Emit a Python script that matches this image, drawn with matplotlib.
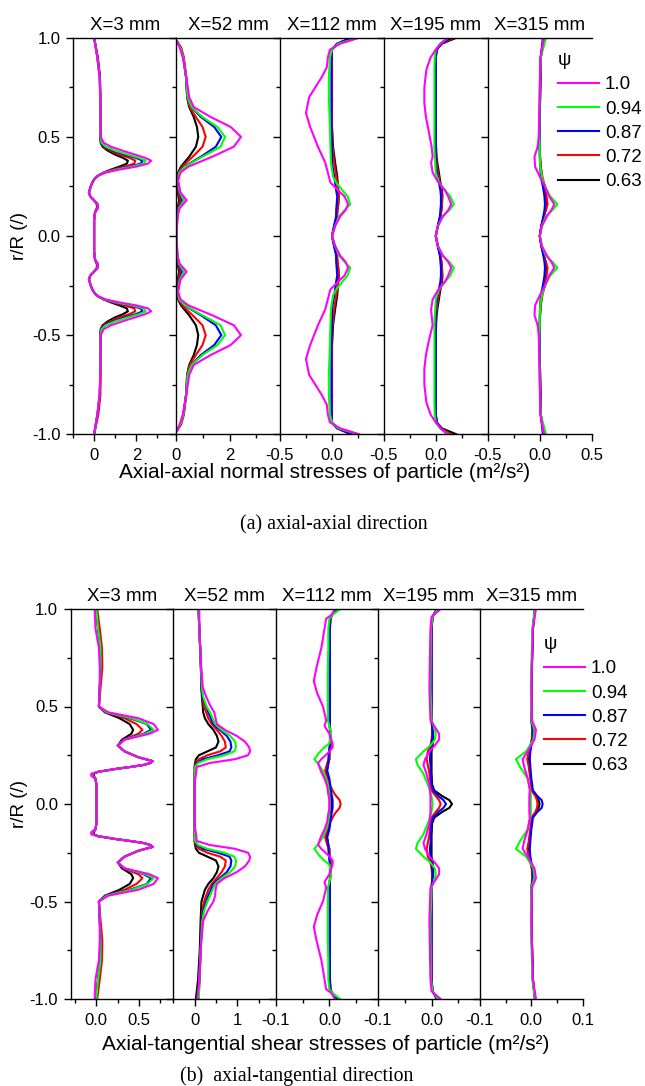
import matplotlib
matplotlib.use('Agg')
import matplotlib.pyplot as plt

plt.rcParams['font.family'] = ['Liberation Sans', 'DejaVu Sans']
plt.rcParams['axes.unicode_minus'] = False

PSI = ['1.0', '0.94', '0.87', '0.72', '0.63']
COLORS = ['#ff00ff', '#00ff00', '#0000ff', '#ff0000', '#000000']
STATIONS = ['X=3 mm', 'X=52 mm', 'X=112 mm', 'X=195 mm', 'X=315 mm']

# ---------------- (a) axial-axial normal stresses ----------------
# X = 3 mm
A1_POS = [1.0, 0.9, 0.8, 0.7, 0.6, 0.5, 0.47, 0.45, 0.43, 0.41, 0.395, 0.38, 0.365, 0.35, 0.335, 0.32, 0.305, 0.29,
          0.27, 0.25, 0.22, 0.2, 0.18, 0.16, 0.14, 0.12, 0.08, 0.0, -0.08, -0.12, -0.14, -0.16, -0.18, -0.2, -0.22,
          -0.25, -0.27, -0.29, -0.305, -0.32, -0.335, -0.35, -0.365, -0.38, -0.395, -0.41, -0.43, -0.45, -0.47, -0.5,
          -0.6, -0.7, -0.8, -0.9, -1.0]
A1_MAG = [0.0, 0.15, 0.26, 0.29, 0.3, 0.31, 0.45, 0.8, 1.35, 1.95, 2.4, 2.7, 2.55, 2.0, 1.2, 0.55, 0.2, 0.03, -0.08,
          -0.16, -0.25, -0.19, 0.0, 0.18, 0.18, 0.05, 0.0, 0.0, 0.0, 0.05, 0.18, 0.18, 0.0, -0.19, -0.25, -0.16, -0.08,
          0.03, 0.2, 0.55, 1.2, 2.0, 2.55, 2.7, 2.4, 1.95, 1.35, 0.8, 0.45, 0.31, 0.3, 0.29, 0.26, 0.15, 0.0]
A1_GRN = [0.0, 0.15, 0.26, 0.29, 0.3, 0.3, 0.35, 0.55, 1.0, 1.6, 2.1, 2.45, 2.35, 1.8, 1.05, 0.5, 0.2, 0.03, -0.08,
          -0.16, -0.25, -0.19, 0.0, 0.17, 0.17, 0.05, 0.0, 0.0, 0.0, 0.05, 0.17, 0.17, 0.0, -0.19, -0.25, -0.16, -0.08,
          0.03, 0.2, 0.5, 1.05, 1.8, 2.35, 2.45, 2.1, 1.6, 1.0, 0.55, 0.35, 0.3, 0.3, 0.29, 0.26, 0.15, 0.0]
A1_BLU = [0.0, 0.16, 0.27, 0.29, 0.3, 0.3, 0.33, 0.5, 0.9, 1.45, 1.95, 2.3, 2.2, 1.7, 1.0, 0.5, 0.2, 0.03, -0.08,
          -0.16, -0.25, -0.19, 0.0, 0.16, 0.16, 0.05, 0.0, 0.0, 0.0, 0.05, 0.16, 0.16, 0.0, -0.19, -0.25, -0.16, -0.08,
          0.03, 0.2, 0.5, 1.0, 1.7, 2.2, 2.3, 1.95, 1.45, 0.9, 0.5, 0.33, 0.3, 0.3, 0.29, 0.27, 0.16, 0.0]
A1_RED = [0.0, 0.18, 0.28, 0.3, 0.3, 0.3, 0.32, 0.45, 0.78, 1.2, 1.65, 1.95, 1.9, 1.45, 0.9, 0.45, 0.2, 0.03, -0.08,
          -0.16, -0.24, -0.18, 0.0, 0.14, 0.14, 0.04, 0.0, 0.0, 0.0, 0.04, 0.14, 0.14, 0.0, -0.18, -0.24, -0.16, -0.08,
          0.03, 0.2, 0.45, 0.9, 1.45, 1.9, 1.95, 1.65, 1.2, 0.78, 0.45, 0.32, 0.3, 0.3, 0.3, 0.3, 0.2, 0.0]
A1_BLK = [0.0, 0.16, 0.27, 0.29, 0.3, 0.3, 0.31, 0.4, 0.65, 1.0, 1.35, 1.6, 1.55, 1.2, 0.8, 0.45, 0.2, 0.03, -0.08,
          -0.16, -0.24, -0.18, 0.0, 0.13, 0.13, 0.04, 0.0, 0.0, 0.0, 0.04, 0.13, 0.13, 0.0, -0.18, -0.24, -0.16, -0.08,
          0.03, 0.2, 0.45, 0.8, 1.2, 1.55, 1.6, 1.35, 1.0, 0.65, 0.4, 0.31, 0.3, 0.3, 0.29, 0.27, 0.16, 0.0]

# X = 52 mm
A2_POS = [0.98, 0.95, 0.9, 0.8, 0.7, 0.65, 0.6, 0.55, 0.5, 0.45, 0.4, 0.35, 0.32, 0.28, 0.22, 0.18, 0.14, 0.1, 0.0,
          -0.1, -0.14, -0.18, -0.22, -0.28, -0.32, -0.35, -0.4, -0.45, -0.5, -0.55, -0.6, -0.65, -0.7, -0.8, -0.9,
          -0.95, -0.98]
A2_MAG = [0.03, 0.12, 0.24, 0.37, 0.48, 0.65, 1.29, 2.04, 2.43, 2.16, 1.35, 0.45, 0.15, 0.06, 0.15, 0.38, 0.12, 0.04,
          0.0, 0.04, 0.12, 0.38, 0.15, 0.06, 0.15, 0.45, 1.35, 2.16, 2.43, 2.04, 1.29, 0.65, 0.48, 0.37, 0.24, 0.12, 0.03]
A2_GRN = [0.02, 0.15, 0.26, 0.36, 0.42, 0.57, 0.98, 1.54, 1.83, 1.66, 0.98, 0.32, 0.1, 0.05, 0.12, 0.28, 0.09, 0.03,
          0.0, 0.03, 0.09, 0.28, 0.12, 0.05, 0.1, 0.32, 0.98, 1.66, 1.83, 1.54, 0.98, 0.57, 0.42, 0.36, 0.26, 0.15, 0.02]
A2_BLU = [0.02, 0.15, 0.26, 0.36, 0.42, 0.56, 0.92, 1.42, 1.69, 1.48, 0.92, 0.3, 0.1, 0.05, 0.1, 0.22, 0.07, 0.03,
          0.0, 0.03, 0.07, 0.22, 0.1, 0.05, 0.1, 0.3, 0.92, 1.48, 1.69, 1.42, 0.92, 0.56, 0.42, 0.36, 0.26, 0.15, 0.02]
A2_RED = [0.03, 0.18, 0.28, 0.37, 0.4, 0.5, 0.73, 0.98, 1.1, 0.98, 0.61, 0.22, 0.08, 0.04, 0.07, 0.15, 0.05, 0.02,
          0.0, 0.02, 0.05, 0.15, 0.07, 0.04, 0.08, 0.22, 0.61, 0.98, 1.1, 0.98, 0.73, 0.5, 0.4, 0.37, 0.28, 0.18, 0.03]
A2_BLK = [0.02, 0.15, 0.26, 0.36, 0.4, 0.48, 0.65, 0.77, 0.82, 0.73, 0.48, 0.17, 0.06, 0.03, 0.05, 0.1, 0.04, 0.02,
          0.0, 0.02, 0.04, 0.1, 0.05, 0.03, 0.06, 0.17, 0.48, 0.73, 0.82, 0.77, 0.65, 0.48, 0.4, 0.36, 0.26, 0.15, 0.02]

# X = 112 mm
A3_POS = [1.0, 0.97, 0.94, 0.9, 0.85, 0.8, 0.75, 0.7, 0.62, 0.55, 0.45, 0.37, 0.3, 0.27, 0.23, 0.2, 0.16, 0.13, 0.1,
          0.05, 0.0, -0.05, -0.1, -0.13, -0.16, -0.2, -0.23, -0.27, -0.3, -0.37, -0.45, -0.55, -0.62, -0.7, -0.75,
          -0.8, -0.85, -0.9, -0.94, -0.97, -1.0]
A3_MAG = [0.26, 0.08, -0.02, -0.04, -0.05, -0.1, -0.16, -0.22, -0.25, -0.21, -0.135, -0.065, -0.03, -0.016, 0.06,
          0.12, 0.155, 0.13, 0.08, 0.03, 0.0, 0.03, 0.08, 0.13, 0.155, 0.12, 0.06, -0.016, -0.03, -0.065, -0.135,
          -0.21, -0.25, -0.22, -0.16, -0.1, -0.05, -0.04, -0.02, 0.08, 0.26]
A3_GRN = [0.26, 0.06, 0.0, -0.02, -0.025, -0.03, -0.03, -0.03, -0.025, -0.02, -0.015, -0.01, 0.01, 0.04, 0.1, 0.15,
          0.175, 0.12, 0.07, 0.03, 0.0, 0.03, 0.07, 0.12, 0.175, 0.15, 0.1, 0.04, 0.01, -0.01, -0.015, -0.02, -0.025,
          -0.03, -0.03, -0.03, -0.025, -0.02, 0.0, 0.06, 0.26]
A3_BLU = [0.2, 0.05, 0.0, -0.005, -0.005, -0.005, -0.005, -0.005, -0.005, -0.005, 0.0, 0.0, 0.02, 0.03, 0.04, 0.05,
          0.045, 0.04, 0.04, 0.02, 0.0, 0.02, 0.04, 0.04, 0.045, 0.05, 0.04, 0.03, 0.02, 0.0, 0.0, -0.005, -0.005,
          -0.005, -0.005, -0.005, -0.005, -0.005, 0.0, 0.05, 0.2]
A3_RED = [0.2, 0.05, 0.0, -0.002, 0.0, 0.0, 0.0, 0.0, 0.0, 0.0, 0.005, 0.02, 0.04, 0.05, 0.06, 0.065, 0.06, 0.055,
          0.05, 0.025, 0.0, 0.025, 0.05, 0.055, 0.06, 0.065, 0.06, 0.05, 0.04, 0.02, 0.005, 0.0, 0.0, 0.0, 0.0, 0.0,
          0.0, -0.002, 0.0, 0.05, 0.2]
A3_BLK = [0.18, 0.05, 0.0, 0.0, 0.0, 0.0, 0.0, 0.0, 0.0, 0.0, 0.01, 0.03, 0.05, 0.055, 0.06, 0.065, 0.06, 0.05, 0.045,
          0.02, 0.0, 0.02, 0.045, 0.05, 0.06, 0.065, 0.06, 0.055, 0.05, 0.03, 0.01, 0.0, 0.0, 0.0, 0.0, 0.0, 0.0, 0.0,
          0.0, 0.05, 0.18]

# X = 195 mm
A4_POS = [1.0, 0.97, 0.94, 0.9, 0.84, 0.75, 0.67, 0.6, 0.535, 0.45, 0.4, 0.37, 0.32, 0.27, 0.23, 0.2, 0.16, 0.13, 0.1,
          0.05, 0.0, -0.05, -0.1, -0.13, -0.16, -0.2, -0.23, -0.27, -0.32, -0.37, -0.4, -0.45, -0.535, -0.6, -0.67,
          -0.75, -0.84, -0.9, -0.94, -0.97, -1.0]
A4_MAG = [0.11, 0.05, 0.0, -0.05, -0.09, -0.11, -0.11, -0.095, -0.07, -0.04, -0.03, -0.045, -0.03, 0.025, 0.09, 0.12,
          0.15, 0.12, 0.07, 0.02, 0.0, 0.02, 0.07, 0.12, 0.15, 0.12, 0.09, 0.025, -0.03, -0.045, -0.04, -0.03, -0.07,
          -0.095, -0.11, -0.11, -0.09, -0.05, 0.0, 0.05, 0.11]
A4_GRN = [0.12, 0.04, 0.0, -0.01, -0.013, -0.013, -0.013, -0.013, -0.013, -0.013, -0.01, -0.005, 0.0, 0.03, 0.09,
          0.14, 0.175, 0.13, 0.07, 0.02, 0.0, 0.02, 0.07, 0.13, 0.175, 0.14, 0.09, 0.03, 0.0, -0.005, -0.01, -0.013,
          -0.013, -0.013, -0.013, -0.013, -0.013, -0.01, 0.0, 0.04, 0.12]
A4_BLU = [0.15, 0.05, 0.01, 0.0, 0.0, 0.0, 0.0, 0.0, 0.0, 0.0, 0.0, 0.0, 0.01, 0.03, 0.045, 0.05, 0.05, 0.045, 0.04,
          0.02, 0.0, 0.02, 0.04, 0.045, 0.05, 0.05, 0.045, 0.03, 0.01, 0.0, 0.0, 0.0, 0.0, 0.0, 0.0, 0.0, 0.0, 0.0,
          0.01, 0.05, 0.12]
A4_RED = [0.18, 0.05, 0.01, 0.0, 0.0, 0.0, 0.0, 0.0, 0.0, 0.0, 0.003, 0.008, 0.02, 0.04, 0.055, 0.06, 0.06, 0.055,
          0.045, 0.02, 0.0, 0.02, 0.045, 0.055, 0.06, 0.06, 0.055, 0.04, 0.02, 0.008, 0.003, 0.0, 0.0, 0.0, 0.0, 0.0,
          0.0, 0.0, 0.01, 0.05, 0.15]
A4_BLK = [0.2, 0.06, 0.01, 0.0, 0.0, 0.0, 0.0, 0.0, 0.0, 0.003, 0.008, 0.015, 0.03, 0.045, 0.06, 0.065, 0.06, 0.055,
          0.045, 0.02, 0.0, 0.02, 0.045, 0.055, 0.06, 0.065, 0.06, 0.045, 0.03, 0.015, 0.008, 0.003, 0.0, 0.0, 0.0,
          0.0, 0.0, 0.0, 0.01, 0.06, 0.2]

# X = 315 mm
A5_POS = [1.0, 0.9, 0.75, 0.6, 0.5, 0.45, 0.4, 0.35, 0.3, 0.25, 0.2, 0.16, 0.13, 0.1, 0.05, 0.0, -0.05, -0.1, -0.13,
          -0.16, -0.2, -0.25, -0.3, -0.35, -0.4, -0.45, -0.5, -0.6, -0.75, -0.9, -1.0]
A5_MAG = [0.04, 0.005, 0.0, -0.005, -0.01, -0.02, -0.05, -0.045, 0.0, 0.05, 0.09, 0.14, 0.11, 0.07, 0.02, 0.0, 0.02,
          0.07, 0.11, 0.14, 0.09, 0.05, 0.0, -0.045, -0.05, -0.02, -0.01, -0.005, 0.0, 0.005, 0.04]
A5_GRN = [0.06, 0.01, 0.0, -0.003, -0.003, 0.0, 0.0, 0.005, 0.02, 0.05, 0.1, 0.17, 0.12, 0.06, 0.02, 0.0, 0.02, 0.06,
          0.12, 0.17, 0.1, 0.05, 0.02, 0.005, 0.0, 0.0, -0.003, -0.003, 0.0, 0.01, 0.06]
A5_BLU = [0.03, 0.01, 0.005, 0.0, 0.0, 0.0, 0.0, 0.005, 0.01, 0.03, 0.045, 0.05, 0.045, 0.035, 0.015, 0.0, 0.015,
          0.035, 0.045, 0.05, 0.045, 0.03, 0.01, 0.005, 0.0, 0.0, 0.0, 0.0, 0.005, 0.01, 0.03]
A5_RED = [0.04, 0.01, 0.005, 0.0, 0.0, 0.0, 0.003, 0.01, 0.025, 0.05, 0.065, 0.075, 0.06, 0.04, 0.015, 0.0, 0.015,
          0.04, 0.06, 0.075, 0.065, 0.05, 0.025, 0.01, 0.003, 0.0, 0.0, 0.0, 0.005, 0.01, 0.04]
A5_BLK = [0.04, 0.01, 0.005, 0.0, 0.0, 0.0, 0.003, 0.008, 0.02, 0.045, 0.06, 0.065, 0.055, 0.04, 0.015, 0.0, 0.015,
          0.04, 0.055, 0.065, 0.06, 0.045, 0.02, 0.008, 0.003, 0.0, 0.0, 0.0, 0.005, 0.01, 0.04]

# ---------------- (b) axial-tangential shear stresses ----------------
# X = 3 mm
B1_POS = [1.0, 0.9, 0.8, 0.7, 0.6, 0.5, 0.47, 0.44, 0.41, 0.38, 0.36, 0.33, 0.3, 0.27, 0.24, 0.22, 0.21, 0.2, 0.19,
          0.18, 0.165, 0.155, 0.145, 0.13, 0.1, 0.0, -0.1, -0.13, -0.145, -0.155, -0.165, -0.18, -0.19, -0.2, -0.21,
          -0.22, -0.24, -0.27, -0.3, -0.33, -0.36, -0.38, -0.41, -0.44, -0.47, -0.5, -0.6, -0.7, -0.8, -0.9, -1.0]
B1_MAG = [-0.02, -0.01, 0.03, 0.04, 0.04, 0.03, 0.14, 0.49, 0.67, 0.72, 0.62, 0.33, 0.25, 0.33, 0.49, 0.66, 0.63,
          0.55, 0.4, 0.23, 0.02, -0.06, -0.06, -0.01, 0.0, 0.0, 0.0, -0.01, -0.06, -0.06, 0.02, 0.23, 0.4, 0.55, 0.63,
          0.66, 0.49, 0.33, 0.25, 0.33, 0.62, 0.72, 0.67, 0.49, 0.14, 0.03, 0.04, 0.04, 0.03, -0.01, -0.02]
B1_GRN = [0.0, 0.02, 0.05, 0.05, 0.04, 0.03, 0.12, 0.41, 0.6, 0.67, 0.57, 0.33, 0.25, 0.33, 0.49, 0.66, 0.63, 0.55,
          0.4, 0.23, 0.02, -0.05, -0.05, -0.01, 0.0, 0.0, 0.0, -0.01, -0.05, -0.05, 0.02, 0.23, 0.4, 0.55, 0.63, 0.66,
          0.49, 0.33, 0.25, 0.33, 0.57, 0.67, 0.6, 0.41, 0.12, 0.03, 0.04, 0.05, 0.05, 0.02, 0.0]
B1_BLU = [0.0, 0.02, 0.05, 0.05, 0.04, 0.03, 0.11, 0.39, 0.59, 0.64, 0.55, 0.33, 0.25, 0.33, 0.49, 0.66, 0.63, 0.55,
          0.4, 0.23, 0.02, -0.05, -0.05, -0.01, 0.0, 0.0, 0.0, -0.01, -0.05, -0.05, 0.02, 0.23, 0.4, 0.55, 0.63, 0.66,
          0.49, 0.33, 0.25, 0.33, 0.55, 0.64, 0.59, 0.39, 0.11, 0.03, 0.04, 0.05, 0.05, 0.02, 0.0]
B1_RED = [0.01, 0.04, 0.066, 0.07, 0.05, 0.03, 0.11, 0.33, 0.47, 0.54, 0.49, 0.32, 0.25, 0.33, 0.49, 0.66, 0.63, 0.55,
          0.4, 0.23, 0.02, -0.04, -0.04, -0.01, 0.0, 0.0, 0.0, -0.01, -0.04, -0.04, 0.02, 0.23, 0.4, 0.55, 0.63, 0.66,
          0.49, 0.33, 0.25, 0.32, 0.49, 0.54, 0.47, 0.33, 0.11, 0.03, 0.05, 0.07, 0.066, 0.04, 0.01]
B1_BLK = [0.0, 0.02, 0.05, 0.05, 0.04, 0.03, 0.1, 0.27, 0.39, 0.43, 0.41, 0.3, 0.25, 0.33, 0.49, 0.66, 0.63, 0.55, 0.4,
          0.23, 0.02, -0.03, -0.03, -0.01, 0.0, 0.0, 0.0, -0.01, -0.03, -0.03, 0.02, 0.23, 0.4, 0.55, 0.63, 0.66, 0.49,
          0.33, 0.25, 0.3, 0.41, 0.43, 0.39, 0.27, 0.1, 0.03, 0.04, 0.05, 0.05, 0.02, 0.0]

# X = 52 mm
B2_POS = [1.0, 0.9, 0.75, 0.6, 0.55, 0.5, 0.47, 0.44, 0.41, 0.38, 0.35, 0.32, 0.29, 0.27, 0.25, 0.23, 0.21, 0.19,
          0.1, 0.0, -0.1, -0.19, -0.21, -0.23, -0.25, -0.27, -0.29, -0.32, -0.35, -0.38, -0.41, -0.44, -0.47, -0.5,
          -0.55, -0.6, -0.75, -0.9, -1.0]
B2_MAG = [0.11, 0.11, 0.14, 0.19, 0.27, 0.375, 0.46, 0.49, 0.52, 0.71, 0.98, 1.18, 1.28, 1.3, 1.25, 0.95, 0.35, 0.05,
          0.0, 0.0, 0.0, 0.05, 0.35, 0.95, 1.25, 1.3, 1.28, 1.18, 0.98, 0.7, 0.52, 0.49, 0.48, 0.44, 0.3, 0.2, 0.14,
          0.11, 0.06]
B2_GRN = [0.09, 0.11, 0.14, 0.17, 0.2, 0.28, 0.36, 0.42, 0.48, 0.63, 0.83, 0.95, 0.97, 0.93, 0.7, 0.3, 0.08, 0.01,
          0.0, 0.0, 0.0, 0.01, 0.08, 0.3, 0.7, 0.93, 0.97, 0.95, 0.83, 0.63, 0.48, 0.42, 0.36, 0.3, 0.22, 0.18, 0.14,
          0.11, 0.1]
B2_BLU = [0.09, 0.11, 0.14, 0.16, 0.18, 0.27, 0.32, 0.38, 0.44, 0.59, 0.75, 0.84, 0.86, 0.82, 0.55, 0.2, 0.05, 0.01,
          0.0, 0.0, 0.0, 0.01, 0.05, 0.2, 0.55, 0.82, 0.86, 0.84, 0.75, 0.59, 0.44, 0.38, 0.32, 0.27, 0.2, 0.17, 0.14,
          0.11, 0.08]
B2_RED = [0.09, 0.11, 0.14, 0.16, 0.18, 0.22, 0.27, 0.32, 0.4, 0.52, 0.63, 0.71, 0.73, 0.6, 0.3, 0.1, 0.03, 0.0, 0.0,
          0.0, 0.0, 0.0, 0.03, 0.1, 0.3, 0.6, 0.73, 0.71, 0.63, 0.52, 0.4, 0.32, 0.27, 0.22, 0.18, 0.16, 0.14, 0.12,
          0.09]
B2_BLK = [0.09, 0.11, 0.14, 0.16, 0.17, 0.19, 0.2, 0.24, 0.32, 0.44, 0.52, 0.56, 0.5, 0.3, 0.1, 0.03, 0.01, 0.0, 0.0,
          0.0, 0.0, 0.0, 0.01, 0.03, 0.1, 0.3, 0.5, 0.56, 0.52, 0.44, 0.32, 0.24, 0.2, 0.16, 0.15, 0.14, 0.12, 0.08,
          0.03]

# X = 112 mm
B3_POS = [1.0, 0.97, 0.95, 0.9, 0.8, 0.7, 0.63, 0.57, 0.5, 0.43, 0.4, 0.36, 0.31, 0.29, 0.26, 0.23, 0.21, 0.17, 0.13,
          0.09, 0.05, 0.02, 0.0, -0.02, -0.05, -0.09, -0.13, -0.17, -0.21, -0.23, -0.26, -0.29, -0.31, -0.36, -0.4,
          -0.43, -0.5, -0.57, -0.63, -0.7, -0.8, -0.9, -0.95, -0.97, -1.0]
B3_MAG = [0.01, 0.004, -0.006, -0.009, -0.015, -0.024, -0.029, -0.023, -0.012, -0.006, -0.009, 0.0, 0.006, 0.006,
          -0.003, -0.015, -0.021, -0.016, -0.009, -0.004, -0.002, 0.0, 0.0, 0.0, -0.002, -0.004, -0.009, -0.016,
          -0.021, -0.015, -0.003, 0.006, 0.006, 0.0, -0.009, -0.006, -0.012, -0.023, -0.029, -0.024, -0.015, -0.009,
          -0.006, 0.004, 0.01]
B3_GRN = [0.02, 0.006, 0.0, -0.002, -0.002, -0.003, -0.003, -0.003, -0.003, -0.003, 0.0, 0.003, 0.0, -0.01, -0.02,
          -0.028, -0.022, -0.012, -0.006, -0.002, 0.0, 0.0, 0.0, 0.0, 0.0, -0.002, -0.006, -0.012, -0.022, -0.028,
          -0.02, -0.01, 0.0, 0.003, 0.0, -0.003, -0.003, -0.003, -0.003, -0.003, -0.002, -0.002, 0.0, 0.006, 0.02]
B3_BLU = [0.015, 0.005, 0.002, 0.001, 0.001, 0.001, 0.001, 0.001, 0.001, 0.001, 0.001, 0.001, 0.001, 0.0, -0.001,
          -0.002, -0.002, -0.004, 0.0, 0.002, 0.004, 0.006, 0.006, 0.006, 0.004, 0.002, 0.0, -0.004, -0.002, -0.002,
          -0.001, 0.0, 0.001, 0.001, 0.001, 0.001, 0.001, 0.001, 0.001, 0.001, 0.001, 0.001, 0.002, 0.005, 0.015]
B3_RED = [0.015, 0.005, 0.002, 0.0, 0.0, 0.0, 0.0, 0.0, 0.0, 0.0, 0.0, 0.003, 0.003, 0.002, 0.0, 0.0, -0.004, -0.008,
          -0.004, 0.002, 0.01, 0.019, 0.021, 0.019, 0.01, 0.002, -0.004, -0.008, -0.004, 0.0, 0.0, 0.002, 0.003, 0.003,
          0.0, 0.0, 0.0, 0.0, 0.0, 0.0, 0.0, 0.0, 0.002, 0.005, 0.015]
B3_BLK = [0.015, 0.005, 0.002, 0.001, 0.001, 0.001, 0.001, 0.001, 0.001, 0.001, 0.001, 0.002, 0.002, 0.002, 0.0, 0.0,
          -0.002, -0.005, -0.002, 0.001, 0.003, 0.004, 0.004, 0.004, 0.003, 0.001, -0.002, -0.005, -0.002, 0.0, 0.0,
          0.002, 0.002, 0.002, 0.001, 0.001, 0.001, 0.001, 0.001, 0.001, 0.001, 0.001, 0.002, 0.005, 0.015]

# X = 195 mm
B4_POS = [1.0, 0.96, 0.9, 0.6, 0.43, 0.4, 0.36, 0.33, 0.3, 0.27, 0.23, 0.2, 0.16, 0.1, 0.07, 0.04, 0.02, 0.0, -0.02,
          -0.04, -0.07, -0.1, -0.16, -0.2, -0.23, -0.27, -0.3, -0.33, -0.36, -0.4, -0.43, -0.6, -0.9, -0.96, -1.0]
B4_MAG = [0.017, 0.0, -0.002, -0.004, -0.002, 0.005, 0.014, 0.014, 0.006, -0.004, -0.012, -0.015, -0.01, -0.004,
          -0.003, -0.002, -0.002, -0.002, -0.002, -0.002, -0.003, -0.004, -0.01, -0.015, -0.012, -0.004, 0.006, 0.014,
          0.014, 0.005, -0.002, -0.004, -0.002, 0.0, 0.017]
B4_GRN = [0.012, 0.002, -0.001, -0.002, 0.0, 0.004, 0.008, 0.006, -0.002, -0.015, -0.029, -0.026, -0.016, -0.007,
          -0.003, 0.0, 0.001, 0.002, 0.001, 0.0, -0.003, -0.007, -0.016, -0.026, -0.029, -0.015, -0.002, 0.006, 0.008,
          0.004, 0.0, -0.002, -0.001, 0.002, 0.012]
B4_BLU = [0.01, 0.002, 0.0, 0.0, 0.0, 0.001, 0.002, 0.001, 0.0, -0.002, -0.003, -0.002, -0.001, 0.0, 0.003, 0.013,
          0.022, 0.027, 0.022, 0.013, 0.003, 0.0, -0.001, -0.002, -0.003, -0.002, 0.0, 0.001, 0.002, 0.001, 0.0, 0.0,
          0.0, 0.002, 0.01]
B4_RED = [0.01, 0.002, 0.0, 0.0, 0.0, 0.001, 0.001, 0.0, -0.002, -0.007, -0.009, -0.007, -0.004, -0.002, 0.0, 0.008,
          0.014, 0.017, 0.014, 0.008, 0.0, -0.002, -0.004, -0.007, -0.009, -0.007, -0.002, 0.0, 0.001, 0.001, 0.0,
          0.0, 0.0, 0.002, 0.01]
B4_BLK = [0.01, 0.002, 0.0, 0.0, 0.0, 0.001, 0.003, 0.003, 0.002, 0.0, 0.0, 0.0, 0.0, 0.001, 0.005, 0.02, 0.033,
          0.038, 0.033, 0.02, 0.005, 0.001, 0.0, 0.0, 0.0, 0.0, 0.002, 0.003, 0.003, 0.001, 0.0, 0.0, 0.0, 0.002, 0.01]

# X = 315 mm
B5_POS = [1.0, 0.9, 0.6, 0.43, 0.38, 0.33, 0.27, 0.23, 0.19, 0.13, 0.07, 0.04, 0.02, 0.0, -0.02, -0.04, -0.07, -0.13,
          -0.19, -0.23, -0.27, -0.33, -0.38, -0.43, -0.6, -0.9, -1.0]
B5_MAG = [0.009, 0.003, 0.0, 0.001, 0.009, 0.006, -0.007, -0.017, -0.014, -0.007, -0.003, -0.004, -0.004, -0.004,
          -0.004, -0.004, -0.003, -0.007, -0.014, -0.017, -0.007, 0.006, 0.009, 0.001, 0.0, 0.003, 0.009]
B5_GRN = [0.007, 0.002, -0.001, 0.0, 0.006, 0.004, -0.01, -0.03, -0.022, -0.007, -0.002, -0.001, -0.001, -0.001,
          -0.001, -0.001, -0.002, -0.007, -0.022, -0.03, -0.01, 0.004, 0.006, 0.0, -0.001, 0.002, 0.007]
B5_BLU = [0.007, 0.003, 0.0, 0.0, 0.004, 0.002, -0.002, -0.003, -0.002, 0.0, 0.003, 0.012, 0.02, 0.022, 0.02, 0.012,
          0.003, 0.0, -0.002, -0.003, -0.002, 0.002, 0.004, 0.0, 0.0, 0.003, 0.007]
B5_RED = [0.007, 0.003, 0.0, 0.001, 0.003, 0.001, -0.005, -0.008, -0.005, -0.002, 0.0, 0.008, 0.011, 0.012, 0.011,
          0.008, 0.0, -0.002, -0.005, -0.008, -0.005, 0.001, 0.003, 0.001, 0.0, 0.003, 0.007]
B5_BLK = [0.007, 0.003, 0.0, 0.0, 0.002, 0.001, -0.003, -0.006, -0.004, -0.001, 0.001, 0.01, 0.014, 0.016, 0.014,
          0.01, 0.001, -0.001, -0.004, -0.006, -0.003, 0.001, 0.002, 0.0, 0.0, 0.003, 0.007]

PANELS_A = [(A1_POS, [A1_MAG, A1_GRN, A1_BLU, A1_RED, A1_BLK]),
            (A2_POS, [A2_MAG, A2_GRN, A2_BLU, A2_RED, A2_BLK]),
            (A3_POS, [A3_MAG, A3_GRN, A3_BLU, A3_RED, A3_BLK]),
            (A4_POS, [A4_MAG, A4_GRN, A4_BLU, A4_RED, A4_BLK]),
            (A5_POS, [A5_MAG, A5_GRN, A5_BLU, A5_RED, A5_BLK])]
PANELS_B = [(B1_POS, [B1_MAG, B1_GRN, B1_BLU, B1_RED, B1_BLK]),
            (B2_POS, [B2_MAG, B2_GRN, B2_BLU, B2_RED, B2_BLK]),
            (B3_POS, [B3_MAG, B3_GRN, B3_BLU, B3_RED, B3_BLK]),
            (B4_POS, [B4_MAG, B4_GRN, B4_BLU, B4_RED, B4_BLK]),
            (B5_POS, [B5_MAG, B5_GRN, B5_BLU, B5_RED, B5_BLK])]

W, H = 645, 1086
fig = plt.figure(figsize=(W / 100, H / 100), dpi=100)


def draw_block(panels, edges, ytop, ybot, xlims, majors, minors, fmts, leg_xy):
    axes = []
    for i, (pos, curves) in enumerate(panels):
        x0, x1 = edges[i], edges[i + 1]
        ax = fig.add_axes([x0 / W, 1 - ybot / H, (x1 - x0) / W, (ybot - ytop) / H])
        lines = []
        # black first so magenta ends up on top
        for vals, col in reversed(list(zip(curves, COLORS))):
            ln, = ax.plot(vals, pos, color=col, lw=1.5)
            lines.append(ln)
        lines = lines[::-1]
        ax.set_ylim(-1, 1)
        ax.set_xlim(*xlims[i])
        ax.set_xticks(majors[i])
        ax.set_xticks(minors[i], minor=True)
        ax.set_xticklabels([fmts[i] % v for v in majors[i]])
        ax.set_yticks([-1.0, -0.5, 0.0, 0.5, 1.0])
        ax.set_yticks([-0.75, -0.25, 0.25, 0.75], minor=True)
        ax.set_yticklabels(['%.1f' % v for v in [-1.0, -0.5, 0.0, 0.5, 1.0]])
        ax.tick_params(which='major', direction='out', length=5, width=1, labelsize=12, pad=4)
        ax.tick_params(which='minor', direction='out', length=3, width=1)
        ax.tick_params(axis='x', pad=5)
        if i > 0:
            ax.tick_params(labelleft=False)
        ax.spines['right'].set_visible(False)
        for s in ['left', 'top', 'bottom']:
            ax.spines[s].set_linewidth(1.0)
        ax.set_title(STATIONS[i], fontsize=13.5, pad=5.5)
        axes.append(ax)
    axes[-1].legend(lines, PSI, title='\u03c8', loc='upper left',
                    bbox_to_anchor=(leg_xy[0] / W, 1 - leg_xy[1] / H),
                    bbox_transform=fig.transFigure, frameon=False, fontsize=13.5,
                    title_fontsize=13.5, handlelength=2.2, handletextpad=0.3,
                    labelspacing=0.38, borderpad=0, borderaxespad=0, alignment='left')
    return axes


draw_block(PANELS_A, [73, 176.5, 280, 384, 487.5, 592], 37.7, 434.3,
           [(-1, 3.9), (0, 3.9), (-0.5, 0.5), (-0.5, 0.5), (-0.5, 0.5)],
           [[0, 2], [0, 2], [-0.5, 0.0], [-0.5, 0.0], [-0.5, 0.0, 0.5]],
           [[-1, 1, 3], [1, 3], [-0.25, 0.25], [-0.25, 0.25], [-0.25, 0.25]],
           ['%g', '%g', '%.1f', '%.1f', '%.1f'], (558, 52))

draw_block(PANELS_B, [70.7, 173.3, 275.7, 377.7, 480, 582.7], 609, 999,
           [(-0.3, 0.9), (-0.5, 1.9), (-0.1, 0.09), (-0.1, 0.09), (-0.1, 0.1)],
           [[0.0, 0.5], [0, 1], [-0.1, 0.0], [-0.1, 0.0], [-0.1, 0.0, 0.1]],
           [[-0.25, 0.25, 0.75], [-0.5, 0.5, 1.5], [-0.05, 0.05], [-0.05, 0.05], [-0.05, 0.05]],
           ['%.1f', '%g', '%.1f', '%.1f', '%.1f'], (544, 636))

fig.text(20 / W, 1 - 236 / H, 'r/R (/)', rotation=90, ha='center', va='center', fontsize=13.5)
fig.text(20 / W, 1 - 804 / H, 'r/R (/)', rotation=90, ha='center', va='center', fontsize=13.5)
fig.text(325 / W, 1 - 472 / H, 'Axial-axial normal stresses of particle (m\u00b2/s\u00b2)',
         ha='center', va='center', fontsize=15)
fig.text(326 / W, 1 - 1044 / H, 'Axial-tangential shear stresses of particle (m\u00b2/s\u00b2)',
         ha='center', va='center', fontsize=15)
fig.text(334 / W, 1 - 525 / H, '(a) axial-axial direction', ha='center', va='center',
         fontsize=14.3, family=['Liberation Serif', 'DejaVu Serif'])
fig.text(297 / W, 1 - 1076 / H, '(b)  axial-tangential direction', ha='center', va='center',
         fontsize=14.3, family=['Liberation Serif', 'DejaVu Serif'])

fig.savefig('out.png', dpi=100)
